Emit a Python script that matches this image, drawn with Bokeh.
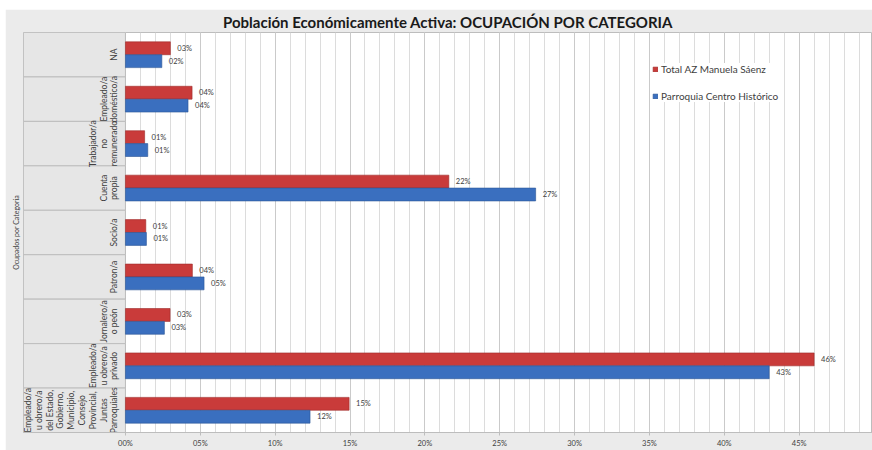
import math
from bokeh.plotting import figure
from bokeh.layouts import column, row
from bokeh.models import (ColumnDataSource, FactorRange, Range1d, FixedTicker,
                          CustomJSTickFormatter, Title, Spacer)
from bokeh.transform import dodge
from bokeh.core.properties import value
from bokeh.embed import file_html
from bokeh.resources import INLINE

# ---- data (top to bottom as in the chart) ----
keys = ["na", "domestico", "noremunerado", "cuentapropia", "socio",
        "patrono", "jornalero", "privado", "estado"]
category_labels = [
    "NA",
    "Empleado/a\ndoméstico/a",
    "Trabajador/a\nno\nremunerado",
    "Cuenta\npropia",
    "Socio/a",
    "Patron/a",
    "Jornalero/a\no peón",
    "Empleado/a\nu obrero/a\nprivado",
    "Empleado/a\nu obrero/a\ndel Estado,\nGobierno,\nMunicipio,\nConsejo\nProvincial,\nJuntas\nParroquiales",
]
series_names = ["Total AZ Manuela Sáenz", "Parroquia Centro Histórico"]
total_az = [3.0, 4.45, 1.28, 21.6, 1.36, 4.47, 2.98, 46.0, 14.94]
centro_historico = [2.43, 4.18, 1.49, 27.4, 1.40, 5.25, 2.60, 43.0, 12.33]
x_major_ticks = [0, 5, 10, 15, 20, 25, 30, 35, 40, 45, 50]
x_minor_ticks = list(range(0, 51))

title_text = "Población Económicamente Activa: OCUPACIÓN POR CATEGORIA"
y_title = "Ocupados por Categoria"

# ---- styling constants ----
FONT = "Lato"
RED = "#C93B3A"
BLUE = "#3A6FBF"
GRAY_BG = "#EBEBEB"
CELL_BG = "#E6E6E6"
LINE_GRAY = "#BDBDBD"
TEXT = "#404040"
LEFT_EDGE = -0.0681  # left end of the category-label band (data units)

src = ColumnDataSource(dict(
    key=keys,
    label=category_labels,
    red=[v / 100 for v in total_az],
    blue=[v / 100 for v in centro_historico],
    red_txt=["%02d%%" % round(v) for v in total_az],
    blue_txt=["%02d%%" % round(v) for v in centro_historico],
    left=[LEFT_EDGE] * len(keys),
    zero=[0] * len(keys),
))

p = figure(
    width=867, height=441,
    y_range=FactorRange(*list(reversed(keys)), range_padding=0),
    x_range=Range1d(LEFT_EDGE, 0.499),
    output_backend="svg", toolbar_location=None,
    min_border_left=18, min_border_right=0, min_border_top=22, min_border_bottom=13,
    title=title_text,
)
p.background_fill_color = "white"
p.border_fill_color = GRAY_BG
p.outline_line_color = LINE_GRAY

p.title.align = "center"
p.title.text_font = FONT
p.title.text_font_size = "15px"
p.title.text_font_style = "bold"
p.title.text_color = "#1a1a1a"
p.title.standoff = 3

# y axis title as a left-side title
p.add_layout(Title(text=y_title, align="center", vertical_align="top", text_font=FONT,
                   text_font_size="7px", text_font_style="normal", text_color=TEXT,
                   standoff=4), "left")

# category label band
p.hbar(y="key", height=1, left="left", right="zero", source=src,
       fill_color=CELL_BG, line_color=LINE_GRAY, line_width=1)

# bars
p.hbar(y=dodge("key", 0.145, range=p.y_range), height=0.29, left=0, right="red",
       source=src, fill_color=RED, line_color="#9E2B2A", line_width=0.6,
       legend_label=series_names[0])
p.hbar(y=dodge("key", -0.145, range=p.y_range), height=0.29, left=0, right="blue",
       source=src, fill_color=BLUE, line_color="#2B5696", line_width=0.6,
       legend_label=series_names[1])

# value labels
p.text(x="red", y=dodge("key", 0.145, range=p.y_range), text="red_txt", source=src,
       x_offset=7, text_baseline="middle", text_font=value(FONT),
       text_font_size="7.5px", text_color=TEXT)
p.text(x="blue", y=dodge("key", -0.145, range=p.y_range), text="blue_txt", source=src,
       x_offset=7, text_baseline="middle", text_font=value(FONT),
       text_font_size="7.5px", text_color=TEXT)

# category labels (rotated)
p.text(x="zero", y="key", text="label", source=src, angle=math.pi / 2,
       x_offset=-6, text_align="center", text_baseline="bottom",
       text_font=value(FONT), text_font_size="8.5px", text_color=TEXT,
       text_line_height=1.08)

# x axis
ticker = FixedTicker(ticks=[t / 100 for t in x_major_ticks],
                     minor_ticks=[t / 100 for t in x_minor_ticks])
p.xaxis.ticker = ticker
p.xgrid.ticker = ticker
p.xaxis.formatter = CustomJSTickFormatter(
    code="return String(Math.round(tick*100)).padStart(2,'0') + '%';")
p.xaxis.major_label_text_font = FONT
p.xaxis.major_label_text_font_size = "7.5px"
p.xaxis.major_label_text_color = TEXT
p.xaxis.major_label_standoff = 2
p.xaxis.major_tick_out = 3
p.xaxis.major_tick_in = 0
p.xaxis.major_tick_line_color = LINE_GRAY
p.xaxis.minor_tick_line_color = None
p.xaxis.axis_line_color = LINE_GRAY
p.xgrid.grid_line_color = "#CACACA"
p.xgrid.minor_grid_line_color = "#DCDCDC"
p.ygrid.grid_line_color = None
p.yaxis.visible = False

# legend
lg = p.legend[0]
lg.location = (629, 330)
lg.glyph_width = 6
lg.glyph_height = 6
lg.label_height = 10
lg.label_standoff = 3
lg.spacing = 15
lg.padding = 8
lg.margin = 0
lg.border_line_color = None
lg.background_fill_color = "white"
lg.background_fill_alpha = 1
lg.label_text_font = FONT
lg.label_text_font_size = "10px"
lg.label_text_color = TEXT

page = column(Spacer(height=9), row(Spacer(width=5), p))
open("out.html", "w").write(file_html(page, INLINE))
